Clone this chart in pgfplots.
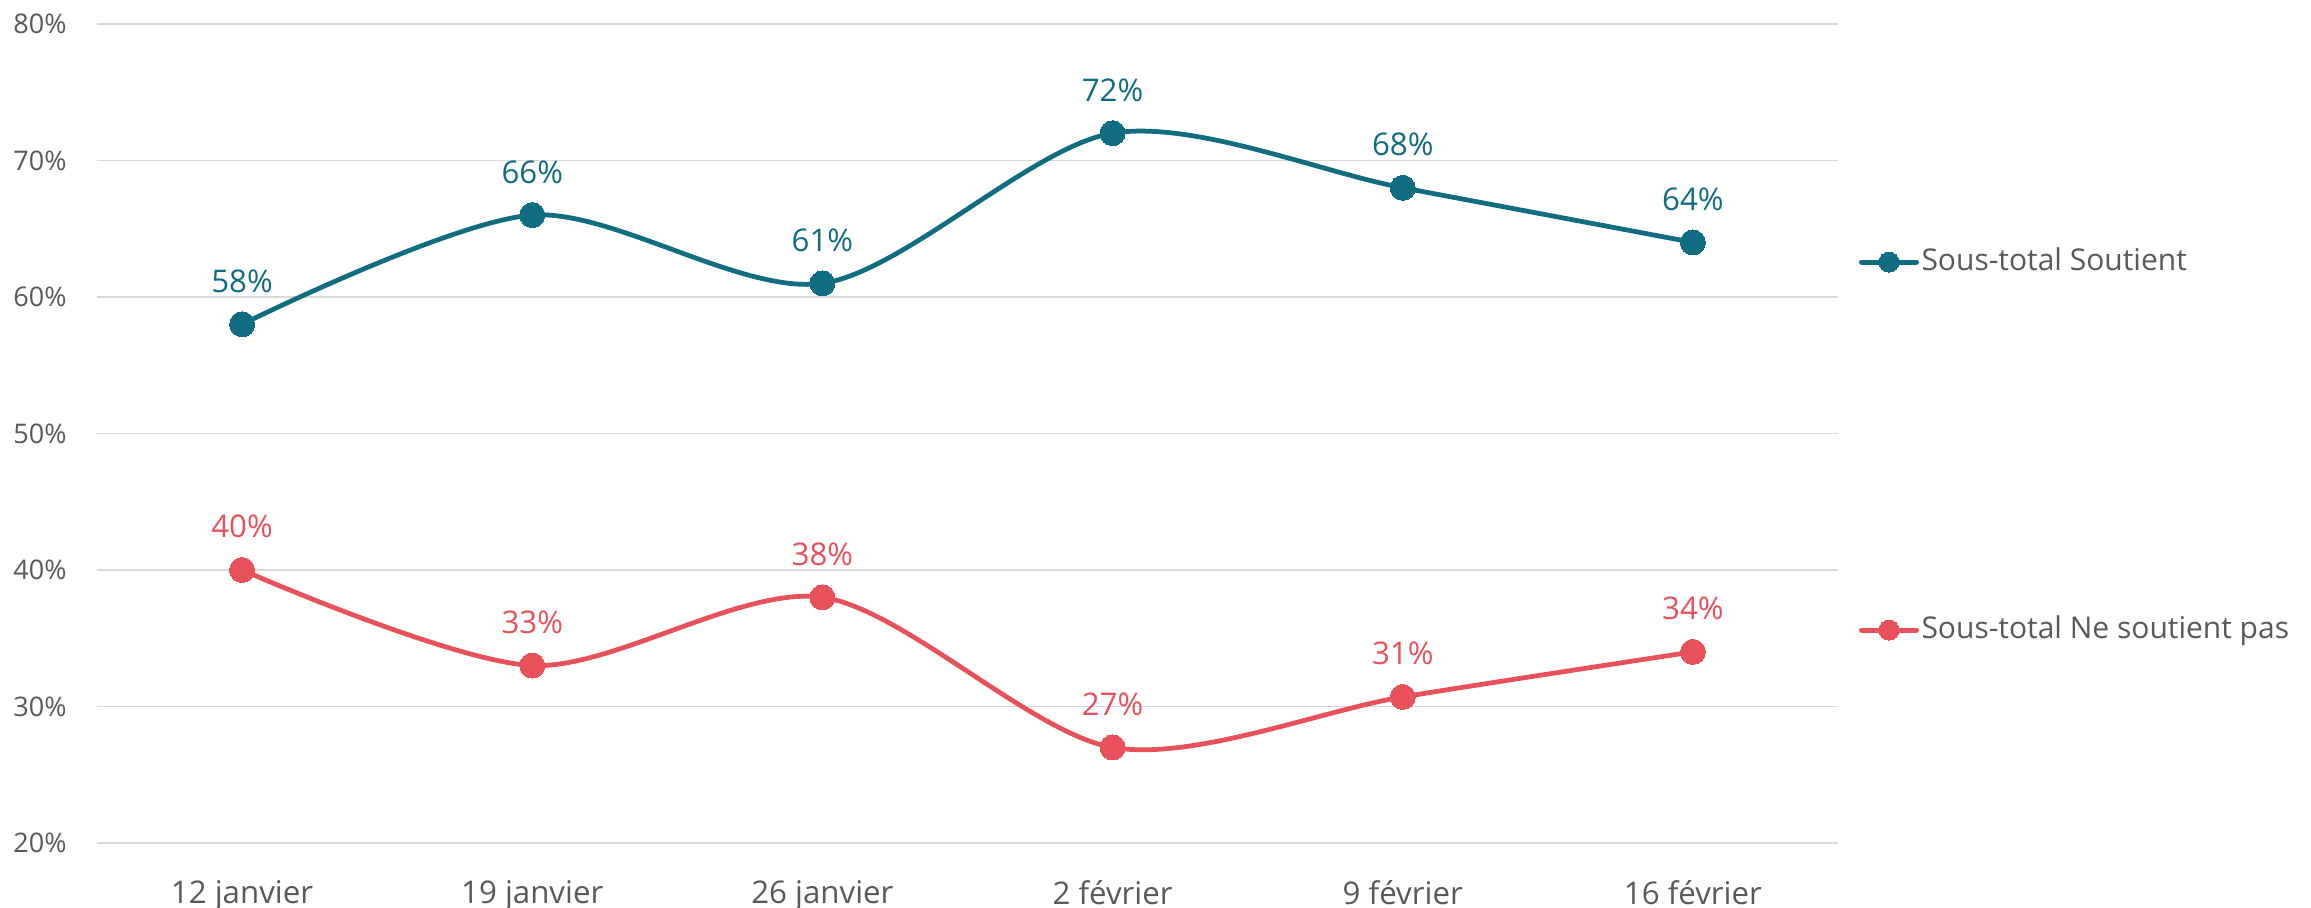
\documentclass[border=0pt]{standalone}
\usepackage{fontspec}
\setmainfont{Open Sans}
\usepackage{pgfplots}
\usepackage{pgfplotstable}
\pgfplotsset{compat=1.18}

\definecolor{soutien}{HTML}{0F6C81}
\definecolor{contre}{HTML}{E8505A}
\definecolor{textgray}{HTML}{595959}
\definecolor{gridgray}{HTML}{D9D9D9}

% semaine, sous-total soutient, sous-total ne soutient pas (%)
\pgfplotstableread{
x soutient nesoutient
0 58 40
1 66 33
2 61 38
3 72 27
4 68 30.7
5 64 34
}\sondage

\begin{document}
\begin{tikzpicture}
\begin{axis}[
  at={(0pt,0pt)}, anchor=south west,
  width=696.4pt, height=327.6pt, scale only axis,
  xmin=-0.5, xmax=5.5, ymin=20, ymax=80,
  xtick={0,...,5},
  xticklabels={12 janvier, 19 janvier, 26 janvier, 2 février, 9 février, 16 février},
  ytick={20,30,...,80},
  ymajorgrids, grid style={line width=0.6pt, color=gridgray},
  axis line style={draw=none},
  major tick style={draw=none},
  tick label style={text=textgray},
  yticklabel={\pgfmathprintnumber[assume math mode=true]{\tick}\%},
  yticklabel style={font=\fontsize{10.8}{12}\selectfont, anchor=east, inner sep=0pt, xshift=-12pt},
  xticklabel style={font=\fontsize{12.5}{14}\selectfont, anchor=north, inner sep=0pt, yshift=-14.8pt},
  clip=false,
  every axis plot/.append style={line width=1.9pt, smooth, tension=0.5, mark=*, mark size=5pt},
  nodes near coords={\pgfmathprintnumber[assume math mode=true,fixed,precision=0]{\pgfplotspointmeta}\%},
  every node near coord/.append style={anchor=base, yshift=12.8pt, font=\fontsize{12.5}{14}\selectfont, inner sep=0pt},
  legend image code/.code={\draw[mark repeat=2, mark phase=2, #1, line width=2pt, mark size=4pt, line cap=round] plot coordinates {(0pt,0pt) (11pt,0pt) (22pt,0pt)};},
  legend style={draw=none, fill=none, at={(rel axis cs:1,0.7292)}, anchor=north west, xshift=8.4pt,
    inner sep=0pt, outer sep=0pt, row sep=134.2pt, column sep=1pt,
    font=\fontsize{12}{14}\selectfont, text=textgray,
    nodes={text height=10pt, text depth=3pt, inner sep=0pt}},
  legend cell align=left,
]
\addplot[color=soutien, mark options={fill=soutien, line width=0pt}, every node near coord/.append style={text=soutien}]
  table[x=x, y=soutient] {\sondage};
\addlegendentry{Sous-total Soutient}
\addplot[color=contre, mark options={fill=contre, line width=0pt}, every node near coord/.append style={text=contre}]
  table[x=x, y=nesoutient] {\sondage};
\addlegendentry{Sous-total Ne soutient pas}
\end{axis}
\pgfresetboundingbox
\path (-38.8pt,-26pt) rectangle (885.6pt,337.2pt);
\end{tikzpicture}
\end{document}
